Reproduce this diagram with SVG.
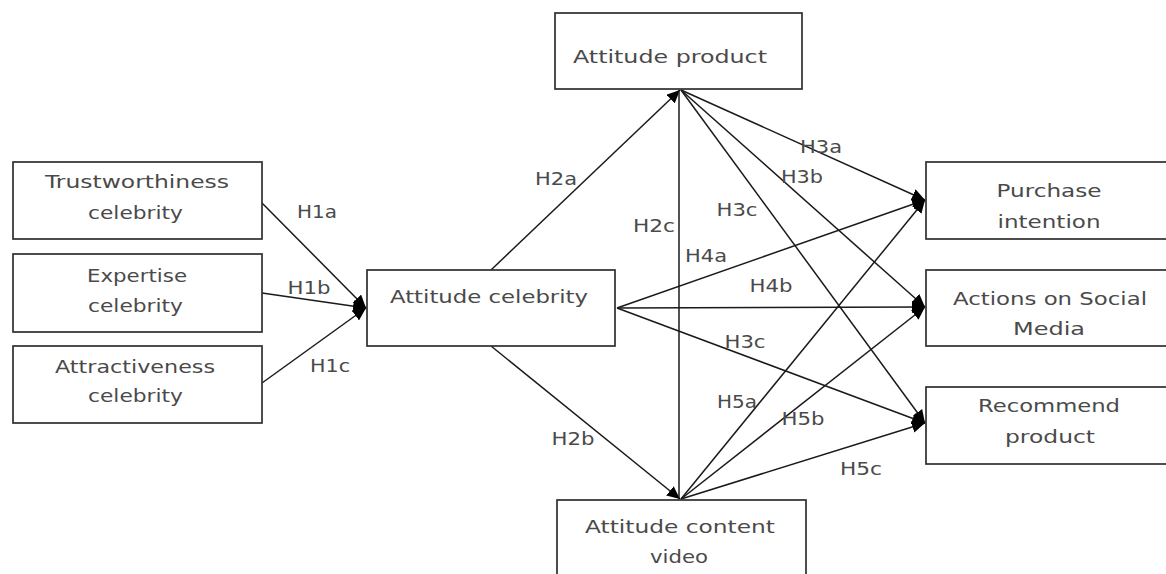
<svg xmlns="http://www.w3.org/2000/svg" width="1166" height="574" viewBox="0 0 1166 574">
<style>
.box{fill:#fff;stroke:#2e2e2e;stroke-width:1.7}
.t{font-family:"DejaVu Sans","Verdana",sans-serif;font-size:18px;fill:#4a4a4a;text-anchor:middle}
.c{stroke:#1a1a1a;stroke-width:1.5;fill:none}
.a{marker-end:url(#ah)}
</style>
<defs>
<marker id="ah" markerUnits="userSpaceOnUse" markerWidth="14" markerHeight="12" refX="13" refY="6" orient="auto">
<path d="M0,0 L13,6 L0,12 Z" fill="#000"/>
</marker>
</defs>
<rect width="1166" height="574" fill="#fff"/>
<g id="connectors">
<line class="c a" x1="262" y1="203" x2="366" y2="308"/>
<line class="c a" x1="262" y1="293" x2="366" y2="308"/>
<line class="c a" x1="262" y1="383" x2="366" y2="308"/>
<line class="c a" x1="491" y1="270" x2="680" y2="90"/>
<line class="c a" x1="491" y1="346" x2="680" y2="499"/>
<line class="c" x1="679" y1="90" x2="679" y2="499"/>
<line class="c a" x1="681" y1="90" x2="925" y2="200"/>
<line class="c a" x1="681" y1="90" x2="925" y2="307"/>
<line class="c a" x1="681" y1="90" x2="925" y2="423"/>
<line class="c a" x1="617" y1="308" x2="925" y2="200"/>
<line class="c a" x1="617" y1="308" x2="925" y2="307"/>
<line class="c a" x1="617" y1="308" x2="925" y2="423"/>
<line class="c a" x1="681" y1="499" x2="925" y2="200"/>
<line class="c a" x1="681" y1="499" x2="925" y2="307"/>
<line class="c a" x1="681" y1="499" x2="925" y2="423"/>
<g id="labels">
<text class="t" x="317" y="218" textLength="40" lengthAdjust="spacingAndGlyphs">H1a</text>
<text class="t" x="309" y="294" textLength="43" lengthAdjust="spacingAndGlyphs">H1b</text>
<text class="t" x="330" y="372" textLength="40" lengthAdjust="spacingAndGlyphs">H1c</text>
<text class="t" x="556" y="185" textLength="42" lengthAdjust="spacingAndGlyphs">H2a</text>
<text class="t" x="573" y="445" textLength="43" lengthAdjust="spacingAndGlyphs">H2b</text>
<text class="t" x="654" y="232" textLength="42" lengthAdjust="spacingAndGlyphs">H2c</text>
<text class="t" x="821" y="153" textLength="42" lengthAdjust="spacingAndGlyphs">H3a</text>
<text class="t" x="802" y="183" textLength="42" lengthAdjust="spacingAndGlyphs">H3b</text>
<text class="t" x="737" y="216" textLength="41" lengthAdjust="spacingAndGlyphs">H3c</text>
<text class="t" x="706" y="262" textLength="42" lengthAdjust="spacingAndGlyphs">H4a</text>
<text class="t" x="771" y="292" textLength="43" lengthAdjust="spacingAndGlyphs">H4b</text>
<text class="t" x="745" y="348" textLength="41" lengthAdjust="spacingAndGlyphs">H3c</text>
<text class="t" x="737" y="408" textLength="40" lengthAdjust="spacingAndGlyphs">H5a</text>
<text class="t" x="803" y="425" textLength="43" lengthAdjust="spacingAndGlyphs">H5b</text>
<text class="t" x="861" y="475" textLength="42" lengthAdjust="spacingAndGlyphs">H5c</text>
</g>
</g>
<g id="trust">
<rect class="box" x="13" y="162" width="249" height="77"/>
<text class="t" x="137" y="188" textLength="184" lengthAdjust="spacingAndGlyphs">Trustworthiness</text>
<text class="t" x="135.5" y="219" textLength="95" lengthAdjust="spacingAndGlyphs">celebrity</text>
</g>
<g id="expertise">
<rect class="box" x="13" y="254" width="249" height="78"/>
<text class="t" x="137" y="282" textLength="100" lengthAdjust="spacingAndGlyphs">Expertise</text>
<text class="t" x="135.5" y="312" textLength="95" lengthAdjust="spacingAndGlyphs">celebrity</text>
</g>
<g id="attract">
<rect class="box" x="13" y="346" width="249" height="77"/>
<text class="t" x="135" y="373" textLength="160" lengthAdjust="spacingAndGlyphs">Attractiveness</text>
<text class="t" x="135.5" y="402" textLength="95" lengthAdjust="spacingAndGlyphs">celebrity</text>
</g>
<g id="celebrity">
<rect class="box" x="367" y="270" width="248" height="76"/>
<text class="t" x="489" y="303" textLength="198" lengthAdjust="spacingAndGlyphs">Attitude celebrity</text>
</g>
<g id="product">
<rect class="box" x="555" y="13" width="247" height="76"/>
<text class="t" x="670" y="63" textLength="194" lengthAdjust="spacingAndGlyphs">Attitude product</text>
</g>
<g id="video">
<rect class="box" x="557" y="500" width="249" height="80"/>
<text class="t" x="680" y="533" textLength="190" lengthAdjust="spacingAndGlyphs">Attitude content</text>
<text class="t" x="679" y="563" textLength="58" lengthAdjust="spacingAndGlyphs">video</text>
</g>
<g id="purchase">
<rect class="box" x="926" y="162" width="250" height="77"/>
<text class="t" x="1049" y="197" textLength="105" lengthAdjust="spacingAndGlyphs">Purchase</text>
<text class="t" x="1049" y="228" textLength="103" lengthAdjust="spacingAndGlyphs">intention</text>
</g>
<g id="actions">
<rect class="box" x="926" y="270" width="250" height="76"/>
<text class="t" x="1050" y="305" textLength="194" lengthAdjust="spacingAndGlyphs">Actions on Social</text>
<text class="t" x="1049" y="335" textLength="72" lengthAdjust="spacingAndGlyphs">Media</text>
</g>
<g id="recommend">
<rect class="box" x="926" y="387" width="250" height="77"/>
<text class="t" x="1049" y="412" textLength="142" lengthAdjust="spacingAndGlyphs">Recommend</text>
<text class="t" x="1050" y="443" textLength="90" lengthAdjust="spacingAndGlyphs">product</text>
</g>
</svg>
